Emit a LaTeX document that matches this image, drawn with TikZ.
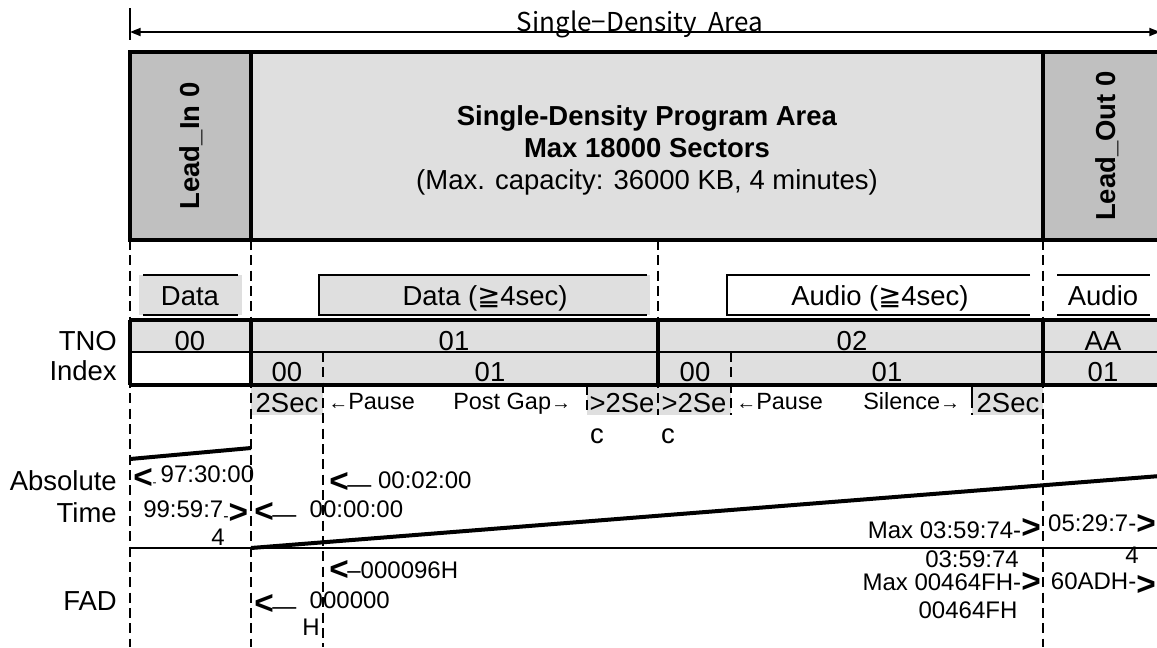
\documentclass[tikz,border=0pt]{standalone}
\usepackage{fontspec}
\setmainfont{Liberation Sans}
\newfontfamily\cjk{Noto Sans CJK JP}
\newfontfamily\dvsans{DejaVu Sans}
\usepackage{tikz}
\usetikzlibrary{arrows.meta}
\usetikzlibrary{positioning}

\definecolor{areagray}{RGB}{223,223,223}
\definecolor{leadgray}{RGB}{192,192,192}

\newcommand{\chevl}[1][-4pt]{\raisebox{#1}{\fontsize{25}{25}\selectfont\bfseries<}}
\newcommand{\chevr}[1][-4pt]{\raisebox{#1}{\fontsize{25}{25}\selectfont\bfseries>}}
\newcommand{\gesym}{{\dvsans ≧}}
\newcommand{\smarr}[1]{{\fontsize{15}{15}\selectfont #1}}

\tikzset{
  bigtxt/.style={font=\fontsize{20.6}{24}\selectfont, inner sep=0pt},
  boldtxt/.style={font=\fontsize{20.6}{24}\selectfont\bfseries, inner sep=0pt},
  midtxt/.style={font=\fontsize{17.6}{21}\selectfont, inner sep=0pt},
  smalltxt/.style={font=\fontsize{18}{21}\selectfont, inner sep=0pt},
  guide/.style={line width=1.4pt, dash pattern=on 7.5pt off 4pt},
  frame/.style={line width=2.4pt},
  thinline/.style={line width=1.4pt},
  slope/.style={line width=3pt},
}

\begin{document}
\begin{tikzpicture}[x=0.75pt,y=-0.75pt]
    \useasboundingbox (0,0) rectangle (1157,647);
    \clip (0,0) rectangle (1157,647);

    % whole area dimension
    \draw[thinline] (130,8) -- (130,40);
    \draw[thinline, {Triangle[length=8pt,width=6pt]}-{Triangle[length=8pt,width=6pt]}] (130,32) -- (1160,32);
    \node[font=\cjk\fontsize{19.5}{19}\selectfont, inner sep=0pt, anchor=base] (sdarea) at (640,31) {Single−Density\ \ Area};

    % lead-in / program / lead-out
    \fill[leadgray] (130,52) rectangle (251,240);
    \fill[areagray] (251,52) rectangle (1043,240);
    \fill[leadgray] (1043,52) rectangle (1180,240);
    \draw[frame] (130,52) rectangle (1180,240);
    \draw[frame] (251,52) -- (251,240);
    \draw[frame] (1043,52) -- (1043,240);

    \node[boldtxt, rotate=90] (leadin) at (191,146) {Lead\_In 0};
    \node[boldtxt, rotate=90] (leadout) at (1107,146) {Lead\_Out 0};
    \node[bigtxt, align=center] (progarea) at (647,150)
        {\textbf{Single-Density Program Area}\\\textbf{Max 18000 Sectors}\\(Max. capacity: 36000 KB, 4 minutes)};

    % track contents
    \fill[areagray] (139,275) rectangle (242,315);
    \draw[thinline] (143,275) -- (238,275) (143,315) -- (238,315);
    \fill[areagray] (319,275) rectangle (650,315);
    \draw[thinline] (647,275) -- (319,275) -- (319,315) -- (647,315);
    \draw[thinline] (1030,275) -- (727,275) -- (727,315) -- (1030,315);
    \draw[thinline] (1057,275) -- (1150,275) (1057,315) -- (1150,315);

    \node[bigtxt, anchor=base] (data0) at (190,305) {Data};
    \node[bigtxt, anchor=base] (data1) at (485,305) {Data (\gesym4sec)};
    \node[bigtxt, anchor=base] (audio2) at (880,305) {Audio (\gesym4sec)};
    \node[bigtxt, anchor=base] (audioaa) at (1103,305) {Audio};

    % TNO / Index rows
    \fill[areagray] (130,320) rectangle (1160,352);
    \fill[areagray] (251,352) rectangle (1160,385);
    \fill[areagray] (251,385) rectangle (323,415);
    \fill[areagray] (587,385) rectangle (731,415);
    \fill[areagray] (972,385) rectangle (1043,415);

    % guides
    \draw[guide] (130,240) -- (130,647);
    \draw[guide] (251,240) -- (251,647);
    \draw[guide] (323,352) -- (323,647);
    \draw[guide] (658,240) -- (658,415);
    \draw[guide] (731,352) -- (731,415);
    \draw[guide] (587,385) -- (587,415);
    \draw[guide] (1043,240) -- (1043,647);
    \draw[thinline] (972,385) -- (972,398);
    \draw[guide] (972,398) -- (972,415);

    \draw[frame] (130,320) -- (1160,320);
    \draw[frame] (130,385) -- (1160,385);
    \draw[thinline] (130,352) -- (1160,352);
    \draw[frame] (130,320) -- (130,385);
    \draw[frame] (251,320) -- (251,385);
    \draw[frame] (658,320) -- (658,385);
    \draw[frame] (1043,320) -- (1043,385);

    \node[bigtxt, anchor=base east] (tnolbl) at (117,350) {TNO};
    \node[bigtxt, anchor=base east] (idxlbl) at (117,380) {Index};
    \node[bigtxt, anchor=base] (tno00) at (190,350) {00};
    \node[bigtxt, anchor=base] (tno01) at (454,350) {01};
    \node[bigtxt, anchor=base] (tno02) at (852,350) {02};
    \node[bigtxt, anchor=base] (tnoaa) at (1103,350) {AA};
    \node[bigtxt, anchor=base] (idx100) at (287,381) {00};
    \node[bigtxt, anchor=base] (idx101) at (490,381) {01};
    \node[bigtxt, anchor=base] (idx200) at (695,381) {00};
    \node[bigtxt, anchor=base] (idx201) at (887,381) {01};
    \node[bigtxt, anchor=base] (idxaa01) at (1103,381) {01};

    % pause / gap row
    \node[bigtxt, anchor=base] (pause1) at (287,412) {2Sec};
    \node[midtxt, anchor=base west] (pausetxt1) at (328,409) {\smarr{←}Pause};
    \node[midtxt, anchor=base west] (postgap) at (453,409) {Post Gap\smarr{→}};
    \node[bigtxt, anchor=base] (gap1) at (622,412) {>2Se};
    \node[bigtxt, anchor=base] (gap1c) at (597,443) {c};
    \node[bigtxt, anchor=base] (gap2) at (694,412) {>2Se};
    \node[bigtxt, anchor=base] (gap2c) at (668,443) {c};
    \node[midtxt, anchor=base west] (pausetxt2) at (736,409) {\smarr{←}Pause};
    \node[midtxt, anchor=base west] (silence) at (863,409) {Silence\smarr{→}};
    \node[bigtxt, anchor=base] (pause2) at (1008,412) {2Sec};

    % time and address lines
    \draw[slope] (130,459) -- (251,448);
    \draw[thinline] (130,548) -- (1160,548);
    \draw[slope] (251,548) -- (1160,476);

    \node[bigtxt, anchor=base east] (abslbl) at (117,490) {Absolute};
    \node[bigtxt, anchor=base east] (timelbl) at (117,522) {Time};
    \node[bigtxt, anchor=base east] (fadlbl) at (117,610) {FAD};

    \node[smalltxt, anchor=base west] (lintime) at (133,482) {\chevl[-4.5pt]{\fontsize{9}{9}\selectfont\raisebox{-3pt}{-}}\,97:30:00};
    \node[smalltxt, anchor=base west] (lendtime) at (143,517) {99:59:7{\fontsize{12}{12}\selectfont\raisebox{-3pt}{-}}\chevr[-5pt]};
    \node[smalltxt, anchor=base] (lendtime4) at (218,545) {4};
    \node[smalltxt, anchor=base west] (starttime) at (254,517) {\chevl\kern-1pt\raisebox{-4pt}{—}\ \ 00:00:00};
    \node[smalltxt, anchor=base west] (idxtime) at (329,488) {\chevl[-3pt]\kern-1pt\raisebox{-3pt}{—}\ 00:02:00};
    \node[smalltxt, anchor=base east] (maxtime) at (1041,538) {Max 03:59:74-\chevr[0pt]};
    \node[smalltxt, anchor=base] (maxtime2) at (972,567) {03:59:74};
    \node[smalltxt, anchor=base east] (louttime) at (1156,531) {05:29:7-\chevr[-2.5pt]};
    \node[smalltxt, anchor=base] (louttime4) at (1132,563) {4};

    \node[smalltxt, anchor=base west] (idxfad) at (329,578) {\chevl[-1.5pt]\kern-1pt–000096H};
    \node[smalltxt, anchor=base west] (startfad) at (254,608) {\chevl[-5pt]\kern-1pt\raisebox{-5pt}{—}\ \ 000000};
    \node[smalltxt, anchor=base west] (startfadh) at (302,635) {H};
    \node[smalltxt, anchor=base east] (maxfad) at (1041,590) {Max 00464FH-\chevr[-2pt]};
    \node[smalltxt, anchor=base] (maxfad2) at (968,618) {00464FH};
    \node[smalltxt, anchor=base east] (loutfad) at (1156,589) {60ADH-\chevr[-5pt]};
\end{tikzpicture}
\end{document}
